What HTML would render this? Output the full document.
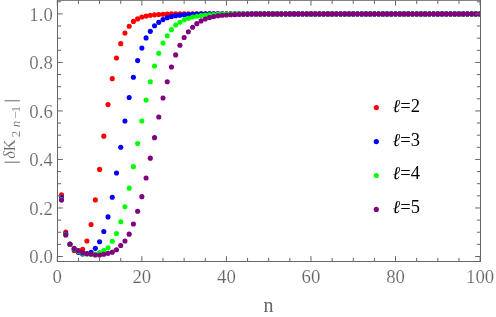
<!DOCTYPE html>
<html><head><meta charset="utf-8"><title>plot</title>
<style>
html,body{margin:0;padding:0;background:#fff;}
body{width:496px;height:317px;overflow:hidden;font-family:"Liberation Serif",serif;}
svg{display:block;font-family:"Liberation Serif",serif;will-change:transform;}
</style></head><body>
<svg width="496" height="317" viewBox="0 0 496 317">
<rect width="496" height="317" fill="#fff"/>
<defs><clipPath id="c"><rect x="57.5" y="0.3" width="423.0" height="261.2"/></clipPath></defs>
<g clip-path="url(#c)">
<g fill="#ff0000"><circle cx="61.53" cy="194.73" r="2.55"/><circle cx="65.76" cy="232.04" r="2.55"/><circle cx="69.98" cy="244.36" r="2.55"/><circle cx="74.21" cy="250.43" r="2.55"/><circle cx="78.44" cy="251.64" r="2.55"/><circle cx="82.67" cy="249.21" r="2.55"/><circle cx="86.90" cy="240.95" r="2.55"/><circle cx="91.12" cy="224.54" r="2.55"/><circle cx="95.35" cy="199.91" r="2.55"/><circle cx="99.58" cy="169.40" r="2.55"/><circle cx="103.81" cy="136.17" r="2.55"/><circle cx="108.04" cy="104.60" r="2.55"/><circle cx="112.26" cy="78.66" r="2.55"/><circle cx="116.49" cy="58.06" r="2.55"/><circle cx="120.72" cy="43.65" r="2.55"/><circle cx="124.95" cy="33.04" r="2.55"/><circle cx="129.18" cy="26.24" r="2.55"/><circle cx="133.40" cy="21.38" r="2.55"/><circle cx="137.63" cy="18.91" r="2.55"/><circle cx="141.86" cy="17.04" r="2.55"/><circle cx="146.09" cy="16.11" r="2.55"/><circle cx="150.32" cy="15.30" r="2.55"/><circle cx="154.54" cy="14.83" r="2.55"/><circle cx="158.77" cy="14.48" r="2.55"/><circle cx="163.00" cy="14.25" r="2.55"/><circle cx="167.23" cy="14.13" r="2.55"/><circle cx="171.46" cy="13.90" r="2.55"/><circle cx="175.68" cy="13.90" r="2.55"/><circle cx="179.91" cy="13.90" r="2.55"/><circle cx="184.14" cy="13.90" r="2.55"/><circle cx="188.37" cy="13.90" r="2.55"/><circle cx="192.60" cy="13.90" r="2.55"/><circle cx="196.82" cy="13.90" r="2.55"/><circle cx="201.05" cy="13.90" r="2.55"/><circle cx="205.28" cy="13.90" r="2.55"/><circle cx="209.51" cy="13.90" r="2.55"/><circle cx="213.74" cy="13.90" r="2.55"/><circle cx="217.96" cy="13.90" r="2.55"/><circle cx="222.19" cy="13.90" r="2.55"/><circle cx="226.42" cy="13.90" r="2.55"/><circle cx="230.65" cy="13.90" r="2.55"/><circle cx="234.88" cy="13.90" r="2.55"/><circle cx="239.10" cy="13.90" r="2.55"/><circle cx="243.33" cy="13.90" r="2.55"/><circle cx="247.56" cy="13.90" r="2.55"/><circle cx="251.79" cy="13.90" r="2.55"/><circle cx="256.02" cy="13.90" r="2.55"/><circle cx="260.24" cy="13.90" r="2.55"/><circle cx="264.47" cy="13.90" r="2.55"/><circle cx="268.70" cy="13.90" r="2.55"/><circle cx="272.93" cy="13.90" r="2.55"/><circle cx="277.16" cy="13.90" r="2.55"/><circle cx="281.38" cy="13.90" r="2.55"/><circle cx="285.61" cy="13.90" r="2.55"/><circle cx="289.84" cy="13.90" r="2.55"/><circle cx="294.07" cy="13.90" r="2.55"/><circle cx="298.30" cy="13.90" r="2.55"/><circle cx="302.52" cy="13.90" r="2.55"/><circle cx="306.75" cy="13.90" r="2.55"/><circle cx="310.98" cy="13.90" r="2.55"/><circle cx="315.21" cy="13.90" r="2.55"/><circle cx="319.44" cy="13.90" r="2.55"/><circle cx="323.66" cy="13.90" r="2.55"/><circle cx="327.89" cy="13.90" r="2.55"/><circle cx="332.12" cy="13.90" r="2.55"/><circle cx="336.35" cy="13.90" r="2.55"/><circle cx="340.58" cy="13.90" r="2.55"/><circle cx="344.80" cy="13.90" r="2.55"/><circle cx="349.03" cy="13.90" r="2.55"/><circle cx="353.26" cy="13.90" r="2.55"/><circle cx="357.49" cy="13.90" r="2.55"/><circle cx="361.72" cy="13.90" r="2.55"/><circle cx="365.94" cy="13.90" r="2.55"/><circle cx="370.17" cy="13.90" r="2.55"/><circle cx="374.40" cy="13.90" r="2.55"/><circle cx="378.63" cy="13.90" r="2.55"/><circle cx="382.86" cy="13.90" r="2.55"/><circle cx="387.08" cy="13.90" r="2.55"/><circle cx="391.31" cy="13.90" r="2.55"/><circle cx="395.54" cy="13.90" r="2.55"/><circle cx="399.77" cy="13.90" r="2.55"/><circle cx="404.00" cy="13.90" r="2.55"/><circle cx="408.22" cy="13.90" r="2.55"/><circle cx="412.45" cy="13.90" r="2.55"/><circle cx="416.68" cy="13.90" r="2.55"/><circle cx="420.91" cy="13.90" r="2.55"/><circle cx="425.14" cy="13.90" r="2.55"/><circle cx="429.36" cy="13.90" r="2.55"/><circle cx="433.59" cy="13.90" r="2.55"/><circle cx="437.82" cy="13.90" r="2.55"/><circle cx="442.05" cy="13.90" r="2.55"/><circle cx="446.28" cy="13.90" r="2.55"/><circle cx="450.50" cy="13.90" r="2.55"/><circle cx="454.73" cy="13.90" r="2.55"/><circle cx="458.96" cy="13.90" r="2.55"/><circle cx="463.19" cy="13.90" r="2.55"/><circle cx="467.42" cy="13.90" r="2.55"/><circle cx="471.64" cy="13.90" r="2.55"/><circle cx="475.87" cy="13.90" r="2.55"/><circle cx="480.10" cy="13.90" r="2.55"/></g>
<g fill="#0000ff"><circle cx="61.53" cy="197.89" r="2.55"/><circle cx="65.76" cy="233.91" r="2.55"/><circle cx="69.98" cy="244.36" r="2.55"/><circle cx="74.21" cy="249.21" r="2.55"/><circle cx="78.44" cy="252.37" r="2.55"/><circle cx="82.67" cy="254.07" r="2.55"/><circle cx="86.90" cy="253.83" r="2.55"/><circle cx="91.12" cy="252.37" r="2.55"/><circle cx="95.35" cy="248.36" r="2.55"/><circle cx="99.58" cy="241.68" r="2.55"/><circle cx="103.81" cy="231.48" r="2.55"/><circle cx="108.04" cy="216.91" r="2.55"/><circle cx="112.26" cy="197.23" r="2.55"/><circle cx="116.49" cy="172.95" r="2.55"/><circle cx="120.72" cy="147.20" r="2.55"/><circle cx="124.95" cy="121.04" r="2.55"/><circle cx="129.18" cy="97.50" r="2.55"/><circle cx="133.40" cy="77.25" r="2.55"/><circle cx="137.63" cy="60.61" r="2.55"/><circle cx="141.86" cy="48.10" r="2.55"/><circle cx="146.09" cy="37.90" r="2.55"/><circle cx="150.32" cy="31.34" r="2.55"/><circle cx="154.54" cy="25.75" r="2.55"/><circle cx="158.77" cy="22.35" r="2.55"/><circle cx="163.00" cy="19.61" r="2.55"/><circle cx="167.23" cy="17.74" r="2.55"/><circle cx="171.46" cy="16.46" r="2.55"/><circle cx="175.68" cy="15.65" r="2.55"/><circle cx="179.91" cy="15.18" r="2.55"/><circle cx="184.14" cy="14.83" r="2.55"/><circle cx="188.37" cy="14.48" r="2.55"/><circle cx="192.60" cy="14.37" r="2.55"/><circle cx="196.82" cy="14.13" r="2.55"/><circle cx="201.05" cy="13.90" r="2.55"/><circle cx="205.28" cy="13.90" r="2.55"/><circle cx="209.51" cy="13.90" r="2.55"/><circle cx="213.74" cy="13.90" r="2.55"/><circle cx="217.96" cy="13.90" r="2.55"/><circle cx="222.19" cy="13.90" r="2.55"/><circle cx="226.42" cy="13.90" r="2.55"/><circle cx="230.65" cy="13.90" r="2.55"/><circle cx="234.88" cy="13.90" r="2.55"/><circle cx="239.10" cy="13.90" r="2.55"/><circle cx="243.33" cy="13.90" r="2.55"/><circle cx="247.56" cy="13.90" r="2.55"/><circle cx="251.79" cy="13.90" r="2.55"/><circle cx="256.02" cy="13.90" r="2.55"/><circle cx="260.24" cy="13.90" r="2.55"/><circle cx="264.47" cy="13.90" r="2.55"/><circle cx="268.70" cy="13.90" r="2.55"/><circle cx="272.93" cy="13.90" r="2.55"/><circle cx="277.16" cy="13.90" r="2.55"/><circle cx="281.38" cy="13.90" r="2.55"/><circle cx="285.61" cy="13.90" r="2.55"/><circle cx="289.84" cy="13.90" r="2.55"/><circle cx="294.07" cy="13.90" r="2.55"/><circle cx="298.30" cy="13.90" r="2.55"/><circle cx="302.52" cy="13.90" r="2.55"/><circle cx="306.75" cy="13.90" r="2.55"/><circle cx="310.98" cy="13.90" r="2.55"/><circle cx="315.21" cy="13.90" r="2.55"/><circle cx="319.44" cy="13.90" r="2.55"/><circle cx="323.66" cy="13.90" r="2.55"/><circle cx="327.89" cy="13.90" r="2.55"/><circle cx="332.12" cy="13.90" r="2.55"/><circle cx="336.35" cy="13.90" r="2.55"/><circle cx="340.58" cy="13.90" r="2.55"/><circle cx="344.80" cy="13.90" r="2.55"/><circle cx="349.03" cy="13.90" r="2.55"/><circle cx="353.26" cy="13.90" r="2.55"/><circle cx="357.49" cy="13.90" r="2.55"/><circle cx="361.72" cy="13.90" r="2.55"/><circle cx="365.94" cy="13.90" r="2.55"/><circle cx="370.17" cy="13.90" r="2.55"/><circle cx="374.40" cy="13.90" r="2.55"/><circle cx="378.63" cy="13.90" r="2.55"/><circle cx="382.86" cy="13.90" r="2.55"/><circle cx="387.08" cy="13.90" r="2.55"/><circle cx="391.31" cy="13.90" r="2.55"/><circle cx="395.54" cy="13.90" r="2.55"/><circle cx="399.77" cy="13.90" r="2.55"/><circle cx="404.00" cy="13.90" r="2.55"/><circle cx="408.22" cy="13.90" r="2.55"/><circle cx="412.45" cy="13.90" r="2.55"/><circle cx="416.68" cy="13.90" r="2.55"/><circle cx="420.91" cy="13.90" r="2.55"/><circle cx="425.14" cy="13.90" r="2.55"/><circle cx="429.36" cy="13.90" r="2.55"/><circle cx="433.59" cy="13.90" r="2.55"/><circle cx="437.82" cy="13.90" r="2.55"/><circle cx="442.05" cy="13.90" r="2.55"/><circle cx="446.28" cy="13.90" r="2.55"/><circle cx="450.50" cy="13.90" r="2.55"/><circle cx="454.73" cy="13.90" r="2.55"/><circle cx="458.96" cy="13.90" r="2.55"/><circle cx="463.19" cy="13.90" r="2.55"/><circle cx="467.42" cy="13.90" r="2.55"/><circle cx="471.64" cy="13.90" r="2.55"/><circle cx="475.87" cy="13.90" r="2.55"/><circle cx="480.10" cy="13.90" r="2.55"/></g>
<g fill="#00ff00"><circle cx="61.53" cy="199.54" r="2.55"/><circle cx="65.76" cy="234.64" r="2.55"/><circle cx="69.98" cy="244.36" r="2.55"/><circle cx="74.21" cy="248.73" r="2.55"/><circle cx="78.44" cy="251.16" r="2.55"/><circle cx="82.67" cy="253.10" r="2.55"/><circle cx="86.90" cy="254.07" r="2.55"/><circle cx="91.12" cy="254.56" r="2.55"/><circle cx="95.35" cy="254.07" r="2.55"/><circle cx="99.58" cy="252.61" r="2.55"/><circle cx="103.81" cy="250.67" r="2.55"/><circle cx="108.04" cy="247.76" r="2.55"/><circle cx="112.26" cy="241.32" r="2.55"/><circle cx="116.49" cy="233.43" r="2.55"/><circle cx="120.72" cy="221.77" r="2.55"/><circle cx="124.95" cy="206.71" r="2.55"/><circle cx="129.18" cy="188.13" r="2.55"/><circle cx="133.40" cy="166.63" r="2.55"/><circle cx="137.63" cy="143.56" r="2.55"/><circle cx="141.86" cy="121.04" r="2.55"/><circle cx="146.09" cy="100.08" r="2.55"/><circle cx="150.32" cy="81.72" r="2.55"/><circle cx="154.54" cy="66.07" r="2.55"/><circle cx="158.77" cy="53.20" r="2.55"/><circle cx="163.00" cy="43.00" r="2.55"/><circle cx="167.23" cy="35.71" r="2.55"/><circle cx="171.46" cy="29.64" r="2.55"/><circle cx="175.68" cy="25.10" r="2.55"/><circle cx="179.91" cy="22.21" r="2.55"/><circle cx="184.14" cy="19.84" r="2.55"/><circle cx="188.37" cy="18.33" r="2.55"/><circle cx="192.60" cy="17.04" r="2.55"/><circle cx="196.82" cy="16.23" r="2.55"/><circle cx="201.05" cy="15.53" r="2.55"/><circle cx="205.28" cy="15.06" r="2.55"/><circle cx="209.51" cy="14.72" r="2.55"/><circle cx="213.74" cy="14.48" r="2.55"/><circle cx="217.96" cy="14.37" r="2.55"/><circle cx="222.19" cy="14.13" r="2.55"/><circle cx="226.42" cy="13.90" r="2.55"/><circle cx="230.65" cy="13.90" r="2.55"/><circle cx="234.88" cy="13.90" r="2.55"/><circle cx="239.10" cy="13.90" r="2.55"/><circle cx="243.33" cy="13.90" r="2.55"/><circle cx="247.56" cy="13.90" r="2.55"/><circle cx="251.79" cy="13.90" r="2.55"/><circle cx="256.02" cy="13.90" r="2.55"/><circle cx="260.24" cy="13.90" r="2.55"/><circle cx="264.47" cy="13.90" r="2.55"/><circle cx="268.70" cy="13.90" r="2.55"/><circle cx="272.93" cy="13.90" r="2.55"/><circle cx="277.16" cy="13.90" r="2.55"/><circle cx="281.38" cy="13.90" r="2.55"/><circle cx="285.61" cy="13.90" r="2.55"/><circle cx="289.84" cy="13.90" r="2.55"/><circle cx="294.07" cy="13.90" r="2.55"/><circle cx="298.30" cy="13.90" r="2.55"/><circle cx="302.52" cy="13.90" r="2.55"/><circle cx="306.75" cy="13.90" r="2.55"/><circle cx="310.98" cy="13.90" r="2.55"/><circle cx="315.21" cy="13.90" r="2.55"/><circle cx="319.44" cy="13.90" r="2.55"/><circle cx="323.66" cy="13.90" r="2.55"/><circle cx="327.89" cy="13.90" r="2.55"/><circle cx="332.12" cy="13.90" r="2.55"/><circle cx="336.35" cy="13.90" r="2.55"/><circle cx="340.58" cy="13.90" r="2.55"/><circle cx="344.80" cy="13.90" r="2.55"/><circle cx="349.03" cy="13.90" r="2.55"/><circle cx="353.26" cy="13.90" r="2.55"/><circle cx="357.49" cy="13.90" r="2.55"/><circle cx="361.72" cy="13.90" r="2.55"/><circle cx="365.94" cy="13.90" r="2.55"/><circle cx="370.17" cy="13.90" r="2.55"/><circle cx="374.40" cy="13.90" r="2.55"/><circle cx="378.63" cy="13.90" r="2.55"/><circle cx="382.86" cy="13.90" r="2.55"/><circle cx="387.08" cy="13.90" r="2.55"/><circle cx="391.31" cy="13.90" r="2.55"/><circle cx="395.54" cy="13.90" r="2.55"/><circle cx="399.77" cy="13.90" r="2.55"/><circle cx="404.00" cy="13.90" r="2.55"/><circle cx="408.22" cy="13.90" r="2.55"/><circle cx="412.45" cy="13.90" r="2.55"/><circle cx="416.68" cy="13.90" r="2.55"/><circle cx="420.91" cy="13.90" r="2.55"/><circle cx="425.14" cy="13.90" r="2.55"/><circle cx="429.36" cy="13.90" r="2.55"/><circle cx="433.59" cy="13.90" r="2.55"/><circle cx="437.82" cy="13.90" r="2.55"/><circle cx="442.05" cy="13.90" r="2.55"/><circle cx="446.28" cy="13.90" r="2.55"/><circle cx="450.50" cy="13.90" r="2.55"/><circle cx="454.73" cy="13.90" r="2.55"/><circle cx="458.96" cy="13.90" r="2.55"/><circle cx="463.19" cy="13.90" r="2.55"/><circle cx="467.42" cy="13.90" r="2.55"/><circle cx="471.64" cy="13.90" r="2.55"/><circle cx="475.87" cy="13.90" r="2.55"/><circle cx="480.10" cy="13.90" r="2.55"/></g>
<g fill="#800080"><circle cx="61.53" cy="200.08" r="2.55"/><circle cx="65.76" cy="234.88" r="2.55"/><circle cx="69.98" cy="244.11" r="2.55"/><circle cx="74.21" cy="248.36" r="2.55"/><circle cx="78.44" cy="250.43" r="2.55"/><circle cx="82.67" cy="252.49" r="2.55"/><circle cx="86.90" cy="253.46" r="2.55"/><circle cx="91.12" cy="254.07" r="2.55"/><circle cx="95.35" cy="255.04" r="2.55"/><circle cx="99.58" cy="255.04" r="2.55"/><circle cx="103.81" cy="254.31" r="2.55"/><circle cx="108.04" cy="253.34" r="2.55"/><circle cx="112.26" cy="252.13" r="2.55"/><circle cx="116.49" cy="249.70" r="2.55"/><circle cx="120.72" cy="245.57" r="2.55"/><circle cx="124.95" cy="240.95" r="2.55"/><circle cx="129.18" cy="234.15" r="2.55"/><circle cx="133.40" cy="223.95" r="2.55"/><circle cx="137.63" cy="211.32" r="2.55"/><circle cx="141.86" cy="196.65" r="2.55"/><circle cx="146.09" cy="177.97" r="2.55"/><circle cx="150.32" cy="158.13" r="2.55"/><circle cx="154.54" cy="137.63" r="2.55"/><circle cx="158.77" cy="116.96" r="2.55"/><circle cx="163.00" cy="97.99" r="2.55"/><circle cx="167.23" cy="81.72" r="2.55"/><circle cx="171.46" cy="67.04" r="2.55"/><circle cx="175.68" cy="54.90" r="2.55"/><circle cx="179.91" cy="45.26" r="2.55"/><circle cx="184.14" cy="37.53" r="2.55"/><circle cx="188.37" cy="31.73" r="2.55"/><circle cx="192.60" cy="27.21" r="2.55"/><circle cx="196.82" cy="23.66" r="2.55"/><circle cx="201.05" cy="20.89" r="2.55"/><circle cx="205.28" cy="19.02" r="2.55"/><circle cx="209.51" cy="17.58" r="2.55"/><circle cx="213.74" cy="16.46" r="2.55"/><circle cx="217.96" cy="15.76" r="2.55"/><circle cx="222.19" cy="15.30" r="2.55"/><circle cx="226.42" cy="14.95" r="2.55"/><circle cx="230.65" cy="14.72" r="2.55"/><circle cx="234.88" cy="14.60" r="2.55"/><circle cx="239.10" cy="14.37" r="2.55"/><circle cx="243.33" cy="14.25" r="2.55"/><circle cx="247.56" cy="14.13" r="2.55"/><circle cx="251.79" cy="13.90" r="2.55"/><circle cx="256.02" cy="13.90" r="2.55"/><circle cx="260.24" cy="13.90" r="2.55"/><circle cx="264.47" cy="13.90" r="2.55"/><circle cx="268.70" cy="13.90" r="2.55"/><circle cx="272.93" cy="13.90" r="2.55"/><circle cx="277.16" cy="13.90" r="2.55"/><circle cx="281.38" cy="13.90" r="2.55"/><circle cx="285.61" cy="13.90" r="2.55"/><circle cx="289.84" cy="13.90" r="2.55"/><circle cx="294.07" cy="13.90" r="2.55"/><circle cx="298.30" cy="13.90" r="2.55"/><circle cx="302.52" cy="13.90" r="2.55"/><circle cx="306.75" cy="13.90" r="2.55"/><circle cx="310.98" cy="13.90" r="2.55"/><circle cx="315.21" cy="13.90" r="2.55"/><circle cx="319.44" cy="13.90" r="2.55"/><circle cx="323.66" cy="13.90" r="2.55"/><circle cx="327.89" cy="13.90" r="2.55"/><circle cx="332.12" cy="13.90" r="2.55"/><circle cx="336.35" cy="13.90" r="2.55"/><circle cx="340.58" cy="13.90" r="2.55"/><circle cx="344.80" cy="13.90" r="2.55"/><circle cx="349.03" cy="13.90" r="2.55"/><circle cx="353.26" cy="13.90" r="2.55"/><circle cx="357.49" cy="13.90" r="2.55"/><circle cx="361.72" cy="13.90" r="2.55"/><circle cx="365.94" cy="13.90" r="2.55"/><circle cx="370.17" cy="13.90" r="2.55"/><circle cx="374.40" cy="13.90" r="2.55"/><circle cx="378.63" cy="13.90" r="2.55"/><circle cx="382.86" cy="13.90" r="2.55"/><circle cx="387.08" cy="13.90" r="2.55"/><circle cx="391.31" cy="13.90" r="2.55"/><circle cx="395.54" cy="13.90" r="2.55"/><circle cx="399.77" cy="13.90" r="2.55"/><circle cx="404.00" cy="13.90" r="2.55"/><circle cx="408.22" cy="13.90" r="2.55"/><circle cx="412.45" cy="13.90" r="2.55"/><circle cx="416.68" cy="13.90" r="2.55"/><circle cx="420.91" cy="13.90" r="2.55"/><circle cx="425.14" cy="13.90" r="2.55"/><circle cx="429.36" cy="13.90" r="2.55"/><circle cx="433.59" cy="13.90" r="2.55"/><circle cx="437.82" cy="13.90" r="2.55"/><circle cx="442.05" cy="13.90" r="2.55"/><circle cx="446.28" cy="13.90" r="2.55"/><circle cx="450.50" cy="13.90" r="2.55"/><circle cx="454.73" cy="13.90" r="2.55"/><circle cx="458.96" cy="13.90" r="2.55"/><circle cx="463.19" cy="13.90" r="2.55"/><circle cx="467.42" cy="13.90" r="2.55"/><circle cx="471.64" cy="13.90" r="2.55"/><circle cx="475.87" cy="13.90" r="2.55"/><circle cx="480.10" cy="13.90" r="2.55"/></g>
</g>
<path d="M57.30 261.5v-5.3M57.30 0.3v5.3M78.44 261.5v-3.6M78.44 0.3v3.6M99.58 261.5v-3.6M99.58 0.3v3.6M120.72 261.5v-3.6M120.72 0.3v3.6M141.86 261.5v-5.3M141.86 0.3v5.3M163.00 261.5v-3.6M163.00 0.3v3.6M184.14 261.5v-3.6M184.14 0.3v3.6M205.28 261.5v-3.6M205.28 0.3v3.6M226.42 261.5v-5.3M226.42 0.3v5.3M247.56 261.5v-3.6M247.56 0.3v3.6M268.70 261.5v-3.6M268.70 0.3v3.6M289.84 261.5v-3.6M289.84 0.3v3.6M310.98 261.5v-5.3M310.98 0.3v5.3M332.12 261.5v-3.6M332.12 0.3v3.6M353.26 261.5v-3.6M353.26 0.3v3.6M374.40 261.5v-3.6M374.40 0.3v3.6M395.54 261.5v-5.3M395.54 0.3v5.3M416.68 261.5v-3.6M416.68 0.3v3.6M437.82 261.5v-3.6M437.82 0.3v3.6M458.96 261.5v-3.6M458.96 0.3v3.6M480.10 261.5v-5.3M480.10 0.3v5.3M57.5 256.50h5.3M480.5 256.50h-5.3M57.5 244.37h3.6M480.5 244.37h-3.6M57.5 232.24h3.6M480.5 232.24h-3.6M57.5 220.11h3.6M480.5 220.11h-3.6M57.5 207.98h5.3M480.5 207.98h-5.3M57.5 195.85h3.6M480.5 195.85h-3.6M57.5 183.72h3.6M480.5 183.72h-3.6M57.5 171.59h3.6M480.5 171.59h-3.6M57.5 159.46h5.3M480.5 159.46h-5.3M57.5 147.33h3.6M480.5 147.33h-3.6M57.5 135.20h3.6M480.5 135.20h-3.6M57.5 123.07h3.6M480.5 123.07h-3.6M57.5 110.94h5.3M480.5 110.94h-5.3M57.5 98.81h3.6M480.5 98.81h-3.6M57.5 86.68h3.6M480.5 86.68h-3.6M57.5 74.55h3.6M480.5 74.55h-3.6M57.5 62.42h5.3M480.5 62.42h-5.3M57.5 50.29h3.6M480.5 50.29h-3.6M57.5 38.16h3.6M480.5 38.16h-3.6M57.5 26.03h3.6M480.5 26.03h-3.6M57.5 13.90h5.3M480.5 13.90h-5.3M57.5 1.77h3.6M480.5 1.77h-3.6" stroke="#666666" stroke-width="1.0" fill="none"/>
<rect x="57.5" y="0.3" width="423.0" height="261.2" fill="none" stroke="#666666" stroke-width="1.0"/>
<g font-size="18.8px" fill="#666666" stroke="#fff" stroke-width="0.15"><text x="57.30" y="283.2" text-anchor="middle">0</text><text x="141.86" y="283.2" text-anchor="middle">20</text><text x="226.42" y="283.2" text-anchor="middle">40</text><text x="310.98" y="283.2" text-anchor="middle">60</text><text x="395.54" y="283.2" text-anchor="middle">80</text><text x="480.10" y="283.2" text-anchor="middle">100</text><text x="52.8" y="263.40" text-anchor="end">0.0</text><text x="52.8" y="214.88" text-anchor="end">0.2</text><text x="52.8" y="166.36" text-anchor="end">0.4</text><text x="52.8" y="117.84" text-anchor="end">0.6</text><text x="52.8" y="69.32" text-anchor="end">0.8</text><text x="52.8" y="20.80" text-anchor="end">1.0</text></g>
<text x="268.4" y="312" text-anchor="middle" font-size="20px" fill="#666666">n</text>
<g transform="translate(14.8 164) rotate(-90)" fill="#666666" text-anchor="middle" stroke="#fff" stroke-width="0.12">
<path d="M1.8 -10.3V5.1M63.2 -10.3V5.1" stroke="#666666" stroke-width="1" fill="none"/>
<text x="9.1" y="0" font-size="16.3px" font-style="italic">δ</text>
<text x="18.65" y="0" font-size="16.3px">K</text>
<text x="30.05" y="5.1" font-size="13px">2</text>
<text x="39.9" y="5.1" font-size="13px" font-style="italic">n</text>
<text x="48.9" y="5.1" font-size="13px">−</text>
<text x="54.8" y="5.1" font-size="13px">1</text>
</g>
<circle cx="376.3" cy="107.6" r="2.6" fill="#ff0000"/><text x="392.5" y="111.5" font-size="18.5px" fill="#000"><tspan font-style="italic">ℓ</tspan>=2</text><circle cx="376.3" cy="141.55" r="2.6" fill="#0000ff"/><text x="392.5" y="145.5" font-size="18.5px" fill="#000"><tspan font-style="italic">ℓ</tspan>=3</text><circle cx="376.3" cy="175.5" r="2.6" fill="#00ff00"/><text x="392.5" y="179.4" font-size="18.5px" fill="#000"><tspan font-style="italic">ℓ</tspan>=4</text><circle cx="376.3" cy="209.45" r="2.6" fill="#800080"/><text x="392.5" y="213.3" font-size="18.5px" fill="#000"><tspan font-style="italic">ℓ</tspan>=5</text>
</svg>
</body></html>
